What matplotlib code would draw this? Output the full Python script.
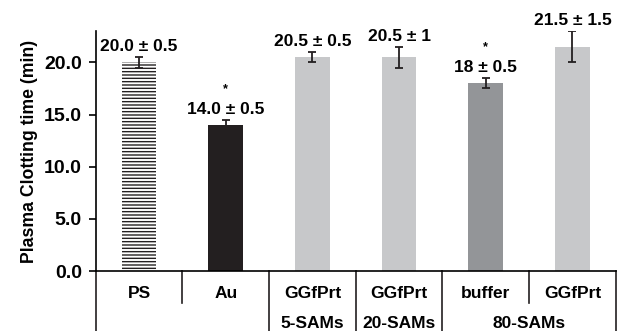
import numpy as np
import matplotlib
matplotlib.use("Agg")
import matplotlib.pyplot as plt

plt.rcParams['font.family'] = ['Liberation Sans', 'DejaVu Sans']
plt.rcParams['font.weight'] = 'bold'
plt.rcParams['hatch.linewidth'] = 1.0

labels = ['PS', 'Au', 'GGfPrt', 'GGfPrt', 'buffer', 'GGfPrt']
values = [20.0, 14.0, 20.5, 20.5, 18.0, 21.5]
errors = [0.5, 0.5, 0.5, 1.0, 0.5, 1.5]
value_text = ['20.0 ± 0.5', '14.0 ± 0.5', '20.5 ± 0.5', '20.5 ± 1', '18 ± 0.5', '21.5 ± 1.5']
significant = [False, True, False, False, True, False]
groups = [('5-SAMs', 2.0), ('20-SAMs', 3.0), ('80-SAMs', 4.5)]

colors = ['white', '#231f20', '#c7c8ca', '#c7c8ca', '#939598', '#c7c8ca']
hatches = ['-----', None, None, None, None, None]

fig = plt.figure(figsize=(6.22, 3.31), dpi=100)
ax = fig.add_axes([0.154, 0.181, 0.836, 0.725])

x = np.arange(len(values))
bars = ax.bar(x, values, width=0.4, color=colors, edgecolor='none', zorder=2)
for b, h in zip(bars, hatches):
    if h:
        b.set_hatch(h)
        b.set_edgecolor('#231f20')
        b.set_linewidth(0)

ax.errorbar(x, values, yerr=errors, fmt='none', ecolor='#231f20',
            elinewidth=1.3, capsize=3, capthick=1.3, zorder=3)

for xi, v, e, t, s in zip(x, values, errors, value_text, significant):
    ax.annotate(t, (xi, v + e), xytext=(0, 2), textcoords='offset points',
                ha='center', va='bottom', fontsize=12.5, fontweight='bold',
                annotation_clip=False)
    if s:
        ax.annotate('*', (xi, v + e), xytext=(0, 18), textcoords='offset points',
                    ha='center', va='bottom', fontsize=9, fontweight='bold',
                    annotation_clip=False)

ax.set_xlim(-0.5, 5.5)
ax.set_ylim(0, 23)
ax.set_yticks([0, 5, 10, 15, 20])
ax.set_yticklabels(['0.0', '5.0', '10.0', '15.0', '20.0'], fontsize=14, fontweight='bold')
ax.set_xticks([])
ax.set_ylabel('Plasma Clotting time (min)', fontsize=12.7, fontweight='bold', labelpad=4)
ax.tick_params(axis='y', direction='out', length=5, width=1.2, pad=5)

for sp in ['top', 'right']:
    ax.spines[sp].set_visible(False)
ax.spines['left'].set_linewidth(1.2)
ax.spines['bottom'].set_linewidth(1.2)
ax.spines['left'].set_bounds(0, 23)

# category table below the axis
trans = ax.get_xaxis_transform()
ax.plot([-0.5, -0.5], [0, -0.25], transform=trans, clip_on=False, color='#231f20', lw=1.2)
for xs, y_end in [(0.5, -0.133), (1.5, -0.25), (2.5, -0.25), (3.5, -0.25), (4.5, -0.133), (5.5, -0.25)]:
    ax.plot([xs, xs], [0, y_end], transform=trans, clip_on=False, color='#231f20', lw=1.2)

for xi, lab in zip(x, labels):
    ax.text(xi, -0.092, lab, transform=trans, ha='center', va='center',
            fontsize=12.5, fontweight='bold')
for name, gx in groups:
    ax.text(gx, -0.22, name, transform=trans, ha='center', va='center',
            fontsize=12.5, fontweight='bold')

fig.savefig('out.png', dpi=100)
